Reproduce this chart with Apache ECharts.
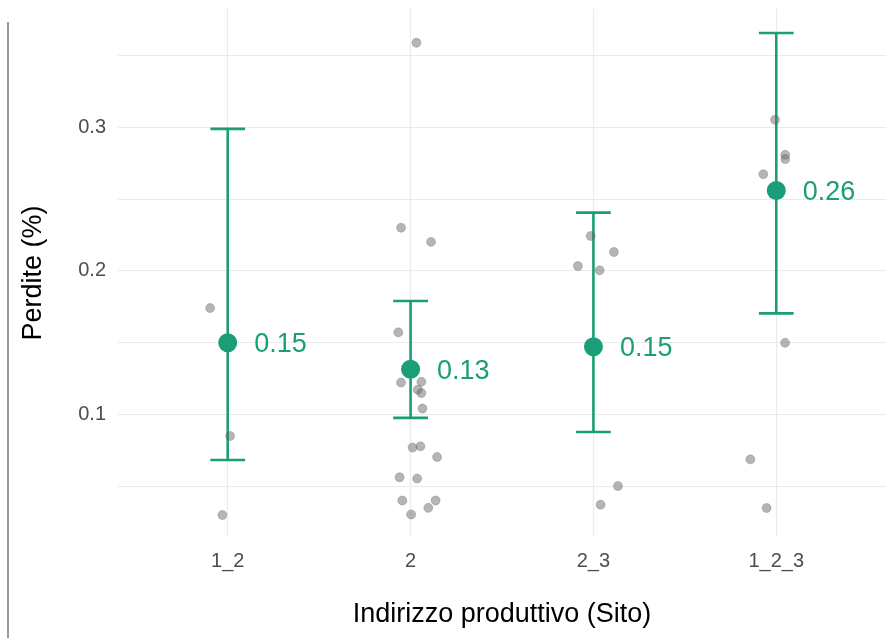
<!DOCTYPE html>
<html>
<head>
<meta charset="utf-8">
<script src="https://cdn.jsdelivr.net/npm/echarts@6/dist/echarts.min.js"></script>
<style>
html,body{margin:0;padding:0;background:#fff;}
#chart{width:892px;height:638px;}
</style>
</head>
<body>
<div id="chart"></div>
<script>
// Categories
const categories = ['1_2', '2', '2_3', '1_2_3'];

// Summary statistics (mean and interval) per category
const means = [0.1497, 0.1313, 0.1469, 0.2558];
const lower = [0.0681, 0.0974, 0.0876, 0.1702];
const upper = [0.2988, 0.1788, 0.2404, 0.3656];

// Raw observations per category (values) and their horizontal jitter offsets
const values12   = [0.1739, 0.0848, 0.0297];
const jitter12   = [-0.096, 0.013, -0.029];
const values2    = [0.3588, 0.2299, 0.2200, 0.1570, 0.1220, 0.1225, 0.1170, 0.1147, 0.1039,
                    0.0767, 0.0776, 0.0701, 0.0560, 0.0551, 0.0398, 0.0398, 0.0347, 0.0301];
const jitter2    = [0.032, -0.052, 0.112, -0.067, -0.052, 0.059, 0.039, 0.059, 0.065,
                    0.011, 0.054, 0.145, -0.060, 0.036, -0.045, 0.137, 0.097, 0.003];
const values23   = [0.2241, 0.2130, 0.2032, 0.2002, 0.0499, 0.0369];
const jitter23   = [-0.015, 0.112, -0.085, 0.034, 0.134, 0.039];
const values123  = [0.3051, 0.2807, 0.2777, 0.2672, 0.1497, 0.0685, 0.0346];
const jitter123  = [-0.007, 0.049, 0.049, -0.071, 0.048, -0.142, -0.053];

// Axis ticks
const yLabelTicks = [0.1, 0.2, 0.3];
const yGridTicks = [0.05, 0.1, 0.15, 0.2, 0.25, 0.3, 0.35];
const xTicks = [1, 2, 3, 4];

const GREEN = '#1B9E77';
const groups = [[values12, jitter12], [values2, jitter2], [values23, jitter23], [values123, jitter123]];
const pointData = [];
groups.forEach(function (g, i) {
  g[0].forEach(function (v, j) { pointData.push([i + 1 + g[1][j], v]); });
});
const barData = categories.map(function (c, i) { return [i + 1, lower[i], upper[i]]; });
const meanData = categories.map(function (c, i) { return [i + 1, means[i]]; });
const capHalf = 0.095;

const chart = echarts.init(document.getElementById('chart'));
chart.setOption({
  animation: false,
  backgroundColor: '#fff',
  grid: { left: 118, right: 6, top: 9, bottom: 101, containLabel: false, outerBoundsMode: 'none' },
  xAxis: {
    type: 'value', min: 0.4, max: 4.6,
    name: 'Indirizzo produttivo (Sito)', nameLocation: 'middle', nameGap: 64,
    nameTextStyle: { fontSize: 27, color: '#000', fontFamily: 'Liberation Sans' },
    axisLine: { show: false },
    axisTick: { show: false, customValues: xTicks },
    axisLabel: {
      customValues: xTicks, margin: 14, fontSize: 20, color: '#4D4D4D', fontFamily: 'Liberation Sans',
      formatter: function (v) { return categories[Math.round(v) - 1] || ''; }
    },
    splitLine: { show: true, lineStyle: { color: '#EBEBEB', width: 1.2 } }
  },
  yAxis: {
    type: 'value', min: 0.0144, max: 0.3823,
    name: 'Perdite (%)', nameLocation: 'middle', nameGap: 71, nameRotate: 90,
    nameTextStyle: { fontSize: 27, color: '#000', fontFamily: 'Liberation Sans' },
    axisLine: { show: false },
    axisTick: { show: false, customValues: yGridTicks },
    axisLabel: {
      customValues: yLabelTicks, margin: 12, fontSize: 20, color: '#4D4D4D', fontFamily: 'Liberation Sans',
      formatter: function (v) { return String(Math.round(v * 10) / 10); }
    },
    splitLine: { show: true, lineStyle: { color: '#EBEBEB', width: 1.2 } }
  },
  graphic: [{
    type: 'line', shape: { x1: 8, y1: 22, x2: 8, y2: 638 },
    style: { stroke: '#777', lineWidth: 1.5 }, silent: true
  }],
  series: [
    {
      type: 'custom', data: barData, z: 2,
      renderItem: function (params, api) {
        const x = api.value(0), lo = api.value(1), hi = api.value(2);
        const top = api.coord([x, hi]), bot = api.coord([x, lo]);
        const tl = api.coord([x - capHalf, hi]), tr = api.coord([x + capHalf, hi]);
        const bl = api.coord([x - capHalf, lo]), br = api.coord([x + capHalf, lo]);
        const st = { stroke: GREEN, lineWidth: 2.6 };
        return {
          type: 'group', children: [
            { type: 'line', shape: { x1: top[0], y1: top[1], x2: bot[0], y2: bot[1] }, style: st },
            { type: 'line', shape: { x1: tl[0], y1: tl[1], x2: tr[0], y2: tr[1] }, style: st },
            { type: 'line', shape: { x1: bl[0], y1: bl[1], x2: br[0], y2: br[1] }, style: st }
          ]
        };
      }
    },
    {
      type: 'scatter', data: meanData, z: 3, symbol: 'circle', symbolSize: 19,
      itemStyle: { color: GREEN, opacity: 1 },
      label: {
        show: true, position: 'right', distance: 17, offset: [0, 2],
        fontSize: 27, color: GREEN, fontFamily: 'Liberation Sans',
        formatter: function (p) { return p.value[1].toFixed(2); }
      }
    },
    {
      type: 'scatter', data: pointData, z: 4, symbolSize: 9,
      itemStyle: { color: 'rgba(100,100,100,0.6)', borderColor: 'rgba(90,90,90,0.45)', borderWidth: 0.8 }
    }
  ]
});
</script>
</body>
</html>
